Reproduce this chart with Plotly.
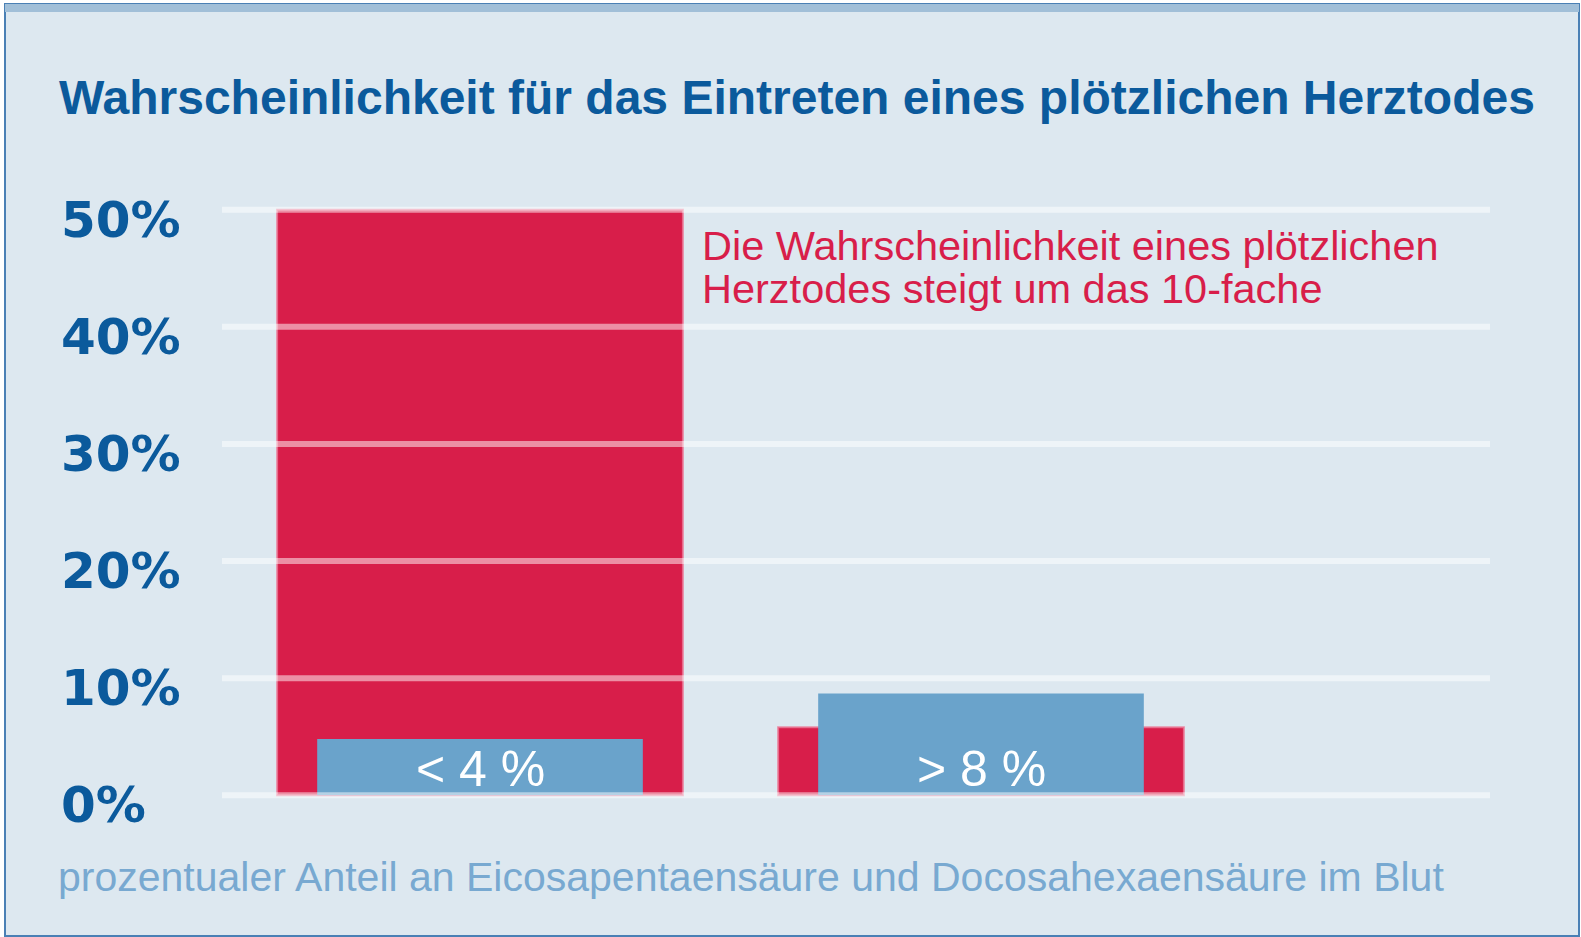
import plotly.graph_objects as go

# ---- data ----
categories = ["< 4 %", "> 8 %"]
risk_values = [50, 5.8]          # Wahrscheinlichkeit plötzlicher Herztod (%)
index_values = [4.8, 8.7]        # Anteil EPA+DHA im Blut (%)
tick_values = [0, 10, 20, 30, 40, 50]
tick_labels = ["0%", "10%", "20%", "30%", "40%", "50%"]

title_text = "Wahrscheinlichkeit für das Eintreten eines plötzlichen Herztodes"
note_lines = ["Die Wahrscheinlichkeit eines plötzlichen", "Herztodes steigt um das 10-fache"]
xlabel_text = "prozentualer Anteil an Eicosapentaensäure und Docosahexaensäure im Blut"

# ---- style ----
W, H = 1581, 937
ML, MR, MT, MB = 222, 91, 198, 130
RED = "#d81e4a"
BLUE = "#6aa3cb"
BG = "#dde8f0"
DARK = "#0b5a9c"
LIGHT = "#78a9d1"
FONT = "Liberation Sans, Arial, sans-serif"
TICKFONT = "DejaVu Sans, sans-serif"

pw, ph = W - ML - MR, H - MT - MB
def px_x(px):
    return (px - ML) / pw
def px_y(py):
    return (H - MB - py) / ph

fig = go.Figure()
fig.add_trace(go.Bar(x=categories, y=risk_values, width=0.81,
                     marker=dict(color=RED, line=dict(color="rgba(235,120,150,0.8)", width=2)),
                     hoverinfo="skip"))
fig.add_trace(go.Bar(x=categories, y=index_values, width=0.65,
                     marker=dict(color=BLUE, line=dict(width=0)),
                     hoverinfo="skip"))

shapes = []
# frame background
shapes.append(dict(type="rect", xref="paper", yref="paper",
                   x0=px_x(5), x1=px_x(1579), y0=px_y(936), y1=px_y(4),
                   fillcolor=BG, line=dict(color="#4a80b5", width=2), layer="below"))
shapes.append(dict(type="rect", xref="paper", yref="paper",
                   x0=px_x(5), x1=px_x(1579), y0=px_y(12), y1=px_y(4),
                   fillcolor="#a1bfd8", line=dict(width=0), layer="below"))
# gridlines above bars
for v in tick_values:
    shapes.append(dict(type="line", xref="paper", yref="y", x0=0, x1=1, y0=v, y1=v,
                       line=dict(color="rgba(255,255,255,0.5)", width=6), layer="above"))

annotations = []
annotations.append(dict(text=title_text, xref="paper", yref="paper",
                        x=px_x(57), y=px_y(98), xanchor="left", yanchor="middle",
                        showarrow=False, font=dict(family=FONT, size=48, color=DARK, weight=700)))
for v, lab in zip(tick_values, tick_labels):
    annotations.append(dict(text=lab, xref="paper", yref="y", x=px_x(59), y=v,
                            xanchor="left", yanchor="middle", yshift=-10, showarrow=False,
                            font=dict(family=TICKFONT, size=50, color=DARK, weight=700)))
for c in categories:
    annotations.append(dict(text=c, xref="x", yref="y", x=c, y=0, xanchor="center",
                            yanchor="bottom", yshift=-4, showarrow=False,
                            font=dict(family=FONT, size=50, color="white")))
for i, line in enumerate(note_lines):
    annotations.append(dict(text=line, xref="paper", yref="paper", x=px_x(700),
                            y=px_y(245 + 43.5 * i),
                            xanchor="left", yanchor="middle", align="left", showarrow=False,
                            font=dict(family=FONT, size=41.5, color=RED)))
annotations.append(dict(text=xlabel_text, xref="paper", yref="paper", x=px_x(56), y=px_y(877),
                        xanchor="left", yanchor="middle", showarrow=False,
                        font=dict(family=FONT, size=41, color=LIGHT)))

fig.update_layout(
    width=W, height=H,
    margin=dict(l=ML, r=MR, t=MT, b=MB, pad=0),
    paper_bgcolor="white", plot_bgcolor="rgba(0,0,0,0)",
    barmode="overlay", showlegend=False,
    shapes=shapes, annotations=annotations,
    xaxis=dict(type="category", range=[-0.515, 2.016], showticklabels=False,
               showgrid=False, zeroline=False, showline=False, ticks=""),
    yaxis=dict(range=[-1, 51], showticklabels=False, showgrid=False,
               zeroline=False, showline=False, ticks=""),
)

fig.write_html("out.html", config={"displayModeBar": False},
               post_script="document.body.style.margin='0';document.body.style.overflow='hidden';")
